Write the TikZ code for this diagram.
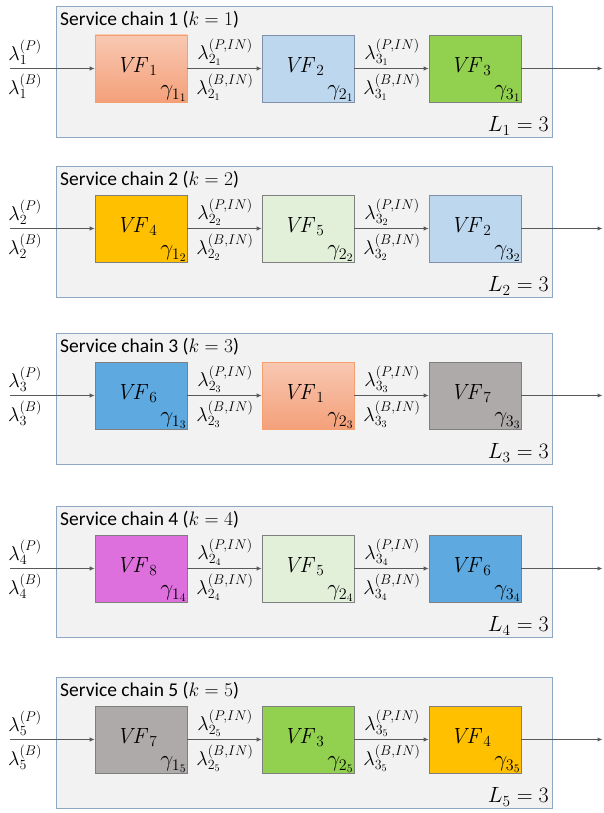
\RequirePackage{fix-cm}
\documentclass[tikz,border=0pt]{standalone}
\usepackage[no-math]{fontspec}
\setmainfont{Carlito}
\usetikzlibrary{arrows.meta}
\definecolor{chainborder}{HTML}{8EA8C3}
\definecolor{chainfill}{HTML}{F2F2F2}
\definecolor{vfborder}{HTML}{7F7F7F}
\definecolor{lbborder}{HTML}{8090A8}
\definecolor{flowgray}{HTML}{595959}
\definecolor{cgreen}{HTML}{92D050}
\definecolor{cgold}{HTML}{FFC000}
\definecolor{clightgreen}{HTML}{E2F0D9}
\definecolor{clightblue}{HTML}{BDD7EE}
\definecolor{cblue}{HTML}{5DA9E0}
\definecolor{cgray}{HTML}{AEAAAA}
\definecolor{cmagenta}{HTML}{DD70DD}
\definecolor{corangetop}{HTML}{F8C8B2}
\definecolor{corangebot}{HTML}{F4A07A}
\definecolor{corangeborder}{HTML}{F4A070}
\tikzset{
  chainbox/.style={draw=chainborder, fill=chainfill, line width=0.9pt},
  vfbox/.style={draw=vfborder, line width=0.6pt, minimum width=92pt, minimum height=67pt, inner sep=0pt},
  vforange/.style={vfbox, draw=corangeborder, top color=corangetop, bottom color=corangebot},
  vflightblue/.style={vfbox, draw=lbborder, fill=clightblue},
  vfgreen/.style={vfbox, fill=cgreen},
  vfgold/.style={vfbox, fill=cgold},
  vflightgreen/.style={vfbox, fill=clightgreen},
  vfblue/.style={vfbox, fill=cblue},
  vfgray/.style={vfbox, fill=cgray},
  vfmagenta/.style={vfbox, fill=cmagenta},
  flow/.style={draw=flowgray, line width=1.1pt, -{Latex[length=5pt,width=4.5pt]}},
  vflabel/.style={font=\fontsize{22}{26}\selectfont, inner sep=0pt},
  gammalabel/.style={font=\fontsize{23}{27}\selectfont, inner sep=0.5pt, anchor=south east},
  lamlabel/.style={font=\fontsize{20}{24}\selectfont, inner sep=0pt},
  titlelabel/.style={font=\fontsize{19.5}{23}\selectfont, anchor=west, inner sep=0pt},
  llabel/.style={font=\fontsize{22}{26}\selectfont, anchor=east, inner sep=0pt},
}
\newcommand{\svcchain}[8]{%
  % #1 k, #2 top, #3 VF A, #4 style A, #5 VF B, #6 style B, #7 VF C, #8 style C
  \draw[chainbox] (56,#2) rectangle (552,#2+131);
  \node[titlelabel] (t#1) at (60,#2+14) {Service chain #1 ($k=#1$)};
  \node[#4] (b#1a) at (141,#2+62.5) {};
  \node[#6] (b#1b) at (308,#2+62.5) {};
  \node[#8] (b#1c) at (475,#2+62.5) {};
  \node[vflabel] (v#1a) at ([shift={(-4,-2)}]b#1a.center) {$\mathit{VF}_{#3}$};
  \node[vflabel] (v#1b) at ([shift={(-4,-2)}]b#1b.center) {$\mathit{VF}_{#5}$};
  \node[vflabel] (v#1c) at ([shift={(-4,-2)}]b#1c.center) {$\mathit{VF}_{#7}$};
  \node[gammalabel] (g#1a) at (b#1a.south east) {$\gamma_{1_{#1}}$};
  \node[gammalabel] (g#1b) at (b#1b.south east) {$\gamma_{2_{#1}}$};
  \node[gammalabel] (g#1c) at (b#1c.south east) {$\gamma_{3_{#1}}$};
  \coordinate (in#1) at (10,#2+62.5);
  \coordinate (out#1) at (602.5,#2+62.5);
  \draw[flow] (in#1) -- (b#1a);
  \draw[flow] (b#1a) -- (b#1b);
  \draw[flow] (b#1b) -- (b#1c);
  \draw[flow] (b#1c) -- (out#1);
  \node[lamlabel] (lp#1) at (25,#2+46) {$\lambda^{(P)}_{#1}$};
  \node[lamlabel] (lb#1) at (25,#2+80) {$\lambda^{(B)}_{#1}$};
  \node[lamlabel] (lpa#1) at (225,#2+46) {$\lambda^{(P,IN)}_{2_{#1}}$};
  \node[lamlabel] (lba#1) at (225,#2+81) {$\lambda^{(B,IN)}_{2_{#1}}$};
  \node[lamlabel] (lpb#1) at (392,#2+46) {$\lambda^{(P,IN)}_{3_{#1}}$};
  \node[lamlabel] (lbb#1) at (392,#2+81) {$\lambda^{(B,IN)}_{3_{#1}}$};
  \node[llabel] (L#1) at (549,#2+120) {$L_{#1}=3$};
}
\begin{document}
\begin{tikzpicture}[x=1pt,y=-1pt]
  \useasboundingbox (0,0) rectangle (603,813);
  \svcchain{1}{6}{1}{vforange}{2}{vflightblue}{3}{vfgreen}
  \svcchain{2}{166}{4}{vfgold}{5}{vflightgreen}{2}{vflightblue}
  \svcchain{3}{333}{6}{vfblue}{1}{vforange}{7}{vfgray}
  \svcchain{4}{506}{8}{vfmagenta}{5}{vflightgreen}{6}{vfblue}
  \svcchain{5}{677}{7}{vfgray}{3}{vfgreen}{4}{vfgold}
\end{tikzpicture}
\end{document}
